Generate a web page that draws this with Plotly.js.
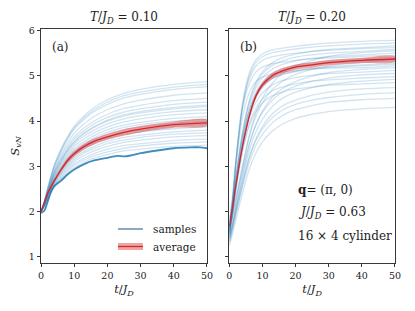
<!DOCTYPE html>
<html>
<head>
<meta charset="utf-8">
<script src="https://cdn.plot.ly/plotly-3.0.1.min.js"></script>
<style>html,body{margin:0;padding:0;background:#fff}#plot{width:415px;height:311px}</style>
</head>
<body>
<div id="plot"></div>
<script>
// time grid (t / J_D)
const T = [0, 1, 2, 4, 6, 8, 10, 13, 16, 20, 25, 30, 40, 50];

// panel (a): T/J_D = 0.10, individual samples
const samplesA = [
  [2.00, 2.23, 2.52, 3.03, 3.38, 3.66, 3.89, 4.12, 4.30, 4.47, 4.61, 4.70, 4.81, 4.87],
  [2.00, 2.22, 2.51, 3.01, 3.35, 3.63, 3.85, 4.08, 4.25, 4.42, 4.56, 4.64, 4.75, 4.81],
  [2.00, 2.22, 2.50, 2.99, 3.32, 3.60, 3.82, 4.04, 4.21, 4.37, 4.51, 4.59, 4.70, 4.76],
  [2.00, 2.21, 2.47, 2.94, 3.26, 3.52, 3.73, 3.94, 4.10, 4.25, 4.38, 4.46, 4.57, 4.62],
  [2.00, 2.20, 2.45, 2.90, 3.20, 3.45, 3.65, 3.85, 4.00, 4.15, 4.28, 4.35, 4.45, 4.50],
  [2.00, 2.19, 2.44, 2.87, 3.16, 3.40, 3.60, 3.79, 3.94, 4.08, 4.20, 4.27, 4.37, 4.42],
  [2.00, 2.19, 2.42, 2.85, 3.13, 3.36, 3.55, 3.74, 3.88, 4.02, 4.14, 4.21, 4.30, 4.35],
  [2.00, 2.19, 2.42, 2.84, 3.11, 3.35, 3.53, 3.72, 3.86, 4.00, 4.11, 4.18, 4.27, 4.32],
  [2.00, 2.18, 2.41, 2.81, 3.08, 3.31, 3.49, 3.67, 3.80, 3.94, 4.05, 4.12, 4.21, 4.25],
  [2.00, 2.17, 2.39, 2.78, 3.05, 3.26, 3.44, 3.61, 3.74, 3.87, 3.98, 4.05, 4.14, 4.18],
  [2.00, 2.17, 2.38, 2.76, 3.01, 3.22, 3.39, 3.55, 3.68, 3.81, 3.91, 3.97, 4.06, 4.10],
  [2.00, 2.16, 2.37, 2.73, 2.98, 3.18, 3.35, 3.51, 3.63, 3.75, 3.86, 3.92, 4.00, 4.04],
  [2.00, 2.16, 2.36, 2.72, 2.96, 3.15, 3.31, 3.47, 3.59, 3.71, 3.81, 3.87, 3.95, 3.99],
  [2.00, 2.15, 2.35, 2.69, 2.92, 3.11, 3.27, 3.42, 3.54, 3.65, 3.75, 3.80, 3.88, 3.92],
  [2.00, 2.15, 2.34, 2.67, 2.90, 3.08, 3.23, 3.38, 3.50, 3.61, 3.70, 3.76, 3.83, 3.87],
  [2.00, 2.14, 2.32, 2.65, 2.86, 3.04, 3.19, 3.33, 3.44, 3.55, 3.64, 3.69, 3.76, 3.80],
  [2.00, 2.14, 2.31, 2.63, 2.84, 3.01, 3.15, 3.29, 3.39, 3.50, 3.58, 3.64, 3.71, 3.74],
  [2.00, 2.13, 2.30, 2.60, 2.81, 2.97, 3.11, 3.24, 3.34, 3.44, 3.53, 3.58, 3.65, 3.68],
  [2.00, 2.13, 2.29, 2.58, 2.77, 2.93, 3.06, 3.18, 3.28, 3.38, 3.46, 3.50, 3.57, 3.60],
  [2.00, 2.12, 2.28, 2.55, 2.74, 2.89, 3.02, 3.14, 3.23, 3.32, 3.40, 3.45, 3.51, 3.54],
  [2.00, 2.12, 2.26, 2.53, 2.71, 2.85, 2.97, 3.09, 3.18, 3.26, 3.34, 3.38, 3.44, 3.47]
];
// panel (a): highlighted lowest sample
const tDarkA = [0, 1, 2, 3, 4, 6, 8, 10, 13, 16, 20, 23, 25, 27, 30, 35, 40, 45, 48, 50];
const darkA  = [1.97, 2.02, 2.22, 2.44, 2.57, 2.68, 2.82, 2.93, 3.05, 3.13, 3.19, 3.23, 3.22, 3.24, 3.29, 3.35, 3.40, 3.42, 3.42, 3.40];
// panel (a): average and its error
const avgA = [2.00, 2.20, 2.40, 2.68, 2.92, 3.13, 3.28, 3.44, 3.55, 3.65, 3.75, 3.82, 3.92, 3.96];
const errA = [0.015, 0.02, 0.03, 0.04, 0.05, 0.055, 0.06, 0.06, 0.065, 0.065, 0.07, 0.07, 0.07, 0.07];

// panel (b): T/J_D = 0.20, individual samples
const samplesB = [
  [1.50, 2.23, 3.13, 4.41, 5.05, 5.35, 5.48, 5.57, 5.61, 5.65, 5.69, 5.72, 5.76, 5.78],
  [1.45, 2.18, 3.07, 4.35, 4.99, 5.29, 5.42, 5.51, 5.55, 5.59, 5.63, 5.66, 5.70, 5.72],
  [1.60, 2.13, 2.74, 3.75, 4.44, 4.85, 5.09, 5.29, 5.40, 5.48, 5.54, 5.58, 5.62, 5.66],
  [1.55, 2.24, 3.10, 4.32, 4.93, 5.21, 5.34, 5.42, 5.46, 5.50, 5.54, 5.56, 5.60, 5.62],
  [1.70, 2.20, 2.79, 3.76, 4.42, 4.80, 5.04, 5.23, 5.33, 5.41, 5.46, 5.50, 5.54, 5.58],
  [1.40, 1.77, 2.19, 2.98, 3.68, 4.18, 4.51, 4.84, 5.05, 5.22, 5.34, 5.43, 5.51, 5.55],
  [1.65, 2.15, 2.73, 3.69, 4.35, 4.73, 4.96, 5.15, 5.25, 5.33, 5.38, 5.42, 5.46, 5.50],
  [1.75, 2.38, 3.16, 4.27, 4.82, 5.08, 5.19, 5.27, 5.30, 5.34, 5.38, 5.39, 5.43, 5.45],
  [1.50, 2.01, 2.59, 3.57, 4.24, 4.63, 4.86, 5.06, 5.16, 5.23, 5.29, 5.33, 5.37, 5.41],
  [1.55, 2.05, 2.62, 3.57, 4.22, 4.60, 4.83, 5.02, 5.11, 5.19, 5.25, 5.28, 5.32, 5.36],
  [1.60, 1.94, 2.31, 3.02, 3.65, 4.10, 4.40, 4.70, 4.88, 5.03, 5.14, 5.22, 5.29, 5.33],
  [1.45, 1.95, 2.52, 3.48, 4.13, 4.51, 4.74, 4.94, 5.03, 5.11, 5.17, 5.20, 5.24, 5.28],
  [1.80, 2.25, 2.77, 3.63, 4.22, 4.56, 4.77, 4.94, 5.03, 5.09, 5.15, 5.18, 5.22, 5.25],
  [1.70, 2.30, 3.04, 4.09, 4.62, 4.87, 4.97, 5.04, 5.08, 5.11, 5.15, 5.17, 5.18, 5.22],
  [1.35, 1.69, 2.08, 2.81, 3.46, 3.92, 4.22, 4.53, 4.72, 4.87, 4.99, 5.07, 5.14, 5.18],
  [1.55, 2.01, 2.55, 3.44, 4.05, 4.41, 4.62, 4.80, 4.89, 4.96, 5.01, 5.05, 5.08, 5.12],
  [1.60, 1.91, 2.26, 2.91, 3.50, 3.91, 4.19, 4.46, 4.64, 4.77, 4.88, 4.95, 5.02, 5.05],
  [1.50, 1.95, 2.47, 3.34, 3.94, 4.28, 4.49, 4.67, 4.75, 4.82, 4.88, 4.91, 4.95, 4.98],
  [1.40, 1.72, 2.07, 2.74, 3.34, 3.76, 4.04, 4.32, 4.50, 4.64, 4.74, 4.81, 4.88, 4.92],
  [1.65, 2.07, 2.55, 3.35, 3.89, 4.21, 4.40, 4.56, 4.64, 4.71, 4.75, 4.79, 4.82, 4.85],
  [1.30, 1.61, 1.95, 2.61, 3.19, 3.60, 3.88, 4.16, 4.33, 4.46, 4.57, 4.64, 4.71, 4.74],
  [1.45, 1.74, 2.05, 2.65, 3.19, 3.57, 3.83, 4.08, 4.24, 4.37, 4.46, 4.52, 4.59, 4.62],
  [1.35, 1.63, 1.95, 2.55, 3.08, 3.46, 3.71, 3.96, 4.12, 4.25, 4.34, 4.41, 4.47, 4.50],
  [1.25, 1.52, 1.83, 2.41, 2.93, 3.29, 3.54, 3.78, 3.93, 4.06, 4.15, 4.21, 4.27, 4.30]
];
const avgB = [1.67, 2.10, 2.60, 3.45, 4.10, 4.55, 4.80, 5.00, 5.11, 5.19, 5.24, 5.29, 5.34, 5.37];
const errB = [0.02, 0.03, 0.04, 0.05, 0.05, 0.055, 0.055, 0.06, 0.06, 0.06, 0.06, 0.06, 0.06, 0.06];

// labels
const xTickVals = [0, 10, 20, 30, 40, 50];
const yTickVals = [1, 2, 3, 4, 5, 6];
const titleA = '<i>T</i>/<i>J</i><sub><i>D</i></sub> = 0.10';
const titleB = '<i>T</i>/<i>J</i><sub><i>D</i></sub> = 0.20';
const xLabel = '<i>t</i>/<i>J</i><sub><i>D</i></sub>';
const yLabel = '<i>S</i><sub><i>vN</i></sub>';
const legendNames = ['samples', 'average'];
const infoLines = ['<b>q</b>= (π, 0)', '<i>J</i>/<i>J</i><sub><i>D</i></sub> = 0.63', '16 × 4 cylinder'];

const FONT = 'DejaVu Serif';
const INK = '#222';
const BLUE_LIGHT = 'rgba(31,119,180,0.2)';
const RED = '#d62728';
const BAND = 'rgba(214,39,40,0.42)';

const traces = [];
function addPanel(samples, xa, ya) {
  samples.forEach(s => traces.push({
    x: T, y: s, xaxis: xa, yaxis: ya, mode: 'lines', showlegend: false, hoverinfo: 'skip',
    line: {color: BLUE_LIGHT, width: 1.3, shape: 'spline', smoothing: 0.8}
  }));
}
function addAverage(avg, err, xa, ya) {
  const up = avg.map((v, i) => v + err[i]);
  const lo = avg.map((v, i) => v - err[i]);
  traces.push({
    x: T.concat(T.slice().reverse()), y: up.concat(lo.slice().reverse()),
    xaxis: xa, yaxis: ya, mode: 'lines', fill: 'toself', fillcolor: BAND,
    line: {width: 0, shape: 'spline', smoothing: 0.8}, showlegend: false, hoverinfo: 'skip'
  });
  traces.push({
    x: T, y: avg, xaxis: xa, yaxis: ya, mode: 'lines', showlegend: false,
    line: {color: RED, width: 1.3, shape: 'spline', smoothing: 0.8}
  });
}
addPanel(samplesA, 'x', 'y');
traces.push({
  x: tDarkA, y: darkA, xaxis: 'x', yaxis: 'y', mode: 'lines', showlegend: false,
  line: {color: 'rgba(31,119,180,0.85)', width: 1.8, shape: 'spline', smoothing: 0.6}
});
addAverage(avgA, errA, 'x', 'y');
addPanel(samplesB, 'x2', 'y2');
addAverage(avgB, errB, 'x2', 'y2');

const axisCommon = {
  showline: true, mirror: true, linecolor: INK, linewidth: 0.9,
  ticks: 'outside', ticklen: 3.5, tickwidth: 0.9, tickcolor: INK,
  showgrid: false, zeroline: false,
  tickfont: {family: FONT, size: 9.5, color: INK}
};
const xCommon = Object.assign({}, axisCommon, {
  range: [0, 50], tickvals: xTickVals,
  title: {text: xLabel, font: {family: FONT, size: 11.5, color: INK}, standoff: 5}
});
const yCommon = Object.assign({}, axisCommon, {range: [0.867, 6.032], tickvals: yTickVals});

const ann = (text, x, y, size, xanchor) => ({
  text, x, y, xref: 'paper', yref: 'paper', showarrow: false,
  xanchor: xanchor || 'left', yanchor: 'middle', font: {family: FONT, size, color: INK}
});

const layout = {
  width: 415, height: 311,
  margin: {l: 41, r: 20, t: 29, b: 48},
  paper_bgcolor: '#fff', plot_bgcolor: '#fff',
  font: {family: FONT, color: INK},
  showlegend: false,
  xaxis: Object.assign({}, xCommon, {domain: [0, 0.4689], anchor: 'y'}),
  yaxis: Object.assign({}, yCommon, {domain: [0, 1], anchor: 'x',
    title: {text: yLabel, font: {family: FONT, size: 11.5, color: INK}, standoff: 6}}),
  xaxis2: Object.assign({}, xCommon, {domain: [0.532, 1], anchor: 'y2'}),
  yaxis2: Object.assign({}, yCommon, {domain: [0, 1], anchor: 'x2', showticklabels: false}),
  shapes: [
    {type: 'line', xref: 'paper', yref: 'paper', x0: 0.2175, x1: 0.288, y0: 0.1453, y1: 0.1453,
     line: {color: 'rgba(60,110,150,0.75)', width: 1.6}},
    {type: 'rect', xref: 'paper', yref: 'paper', x0: 0.2175, x1: 0.288, y0: 0.0556, y1: 0.0855,
     fillcolor: BAND, line: {width: 0}},
    {type: 'line', xref: 'paper', yref: 'paper', x0: 0.2175, x1: 0.288, y0: 0.0705, y1: 0.0705,
     line: {color: RED, width: 1.3}}
  ],
  annotations: [
    ann(titleA, 0.2345, 1.045, 12, 'center'),
    ann(titleB, 0.7655, 1.045, 12, 'center'),
    ann('(a)', 0.0254, 0.923, 12),
    ann('(b)', 0.5565, 0.923, 12),
    ann(legendNames[0], 0.312, 0.1453, 10.5),
    ann(legendNames[1], 0.312, 0.0705, 10.5),
    ann(infoLines[0], 0.7203, 0.312, 12),
    ann(infoLines[1], 0.7203, 0.215, 12),
    ann(infoLines[2], 0.7203, 0.1154, 12)
  ]
};

Plotly.newPlot('plot', traces, layout, {staticPlot: true, displayModeBar: false});
</script>
</body>
</html>
